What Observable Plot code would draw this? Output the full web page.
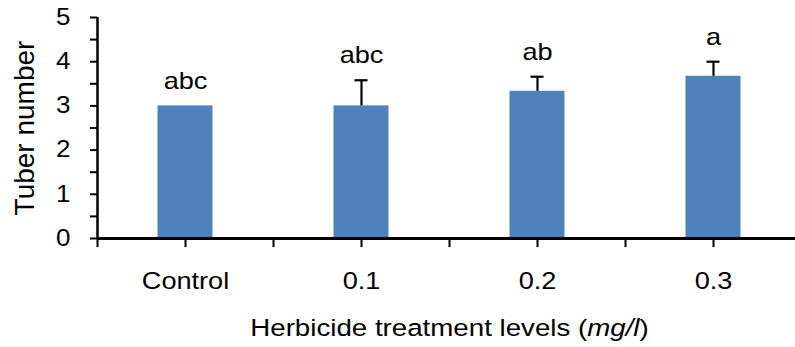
<!DOCTYPE html>
<html>
<head>
<meta charset="utf-8">
<script src="https://cdn.jsdelivr.net/npm/d3@7"></script>
<script src="https://cdn.jsdelivr.net/npm/@observablehq/plot@0.6"></script>
<style>
  html, body { margin: 0; padding: 0; background: #fff; }
  svg { font-family: "Liberation Sans", Arial, sans-serif; }
</style>
</head>
<body>
<div id="chart"></div>
<script>
const categories = ["Control", "0.1", "0.2", "0.3"];
const means = [3.0, 3.0, 3.33, 3.67];
const errors = [0, 0.58, 0.33, 0.33];
const letters = ["abc", "abc", "ab", "a"];
const yTicks = [0, 0.5, 1, 1.5, 2, 2.5, 3, 3.5, 4, 4.5, 5];
const xTicks = [0, 0.5, 1, 1.5, 2, 2.5, 3, 3.5, 4];

const data = categories.map((c, i) => ({cat: c, i, value: means[i], err: errors[i], letter: letters[i]}));

const fontFamily = '"Liberation Sans", Arial, sans-serif';
const stretch = 1.13; // the reference's lettering is slightly wide

const chart = Plot.plot({
  width: 795,
  height: 347,
  marginLeft: 97,
  marginRight: 0,
  marginTop: 17,
  marginBottom: 109,
  style: {fontFamily, color: "#000", background: "#fff", overflow: "visible"},
  x: {domain: [0, categories.length], range: [97, 801]},
  y: {domain: [0, 5], range: [238, 17]},
  marks: [
    Plot.rectY(data, {x1: d => d.i, x2: d => d.i + 1, y: "value", insetLeft: 60.5, insetRight: 60.5, fill: "#4F81BD"}),
    Plot.ruleX(data.filter(d => d.err > 0), {x: d => d.i + 0.5, y1: "value", y2: d => d.value + d.err, stroke: "#000", strokeWidth: 2.2}),
    Plot.ruleY(data.filter(d => d.err > 0), {y: d => d.value + d.err, x1: d => d.i + 0.5, x2: d => d.i + 0.5, insetLeft: -6.5, insetRight: -6.5, stroke: "#000", strokeWidth: 2.2}),
    Plot.text(data, {x: d => d.i + 0.5, y: d => d.value + d.err, text: "letter", lineAnchor: "bottom", dy: -17, fontSize: 24, fill: "#000"}),
    Plot.axisY({ticks: yTicks, tickSize: 7, tickPadding: 20, tickFormat: d => Number.isInteger(d) ? String(d) : "", fontSize: 23, stroke: "#000", strokeWidth: 2, label: null}),
    Plot.axisX({ticks: xTicks, tickSize: 9, tickPadding: 24, tickFormat: d => (d % 1 === 0.5) ? categories[Math.floor(d)] : "", fontSize: 24, stroke: "#000", strokeWidth: 2, label: null}),
    Plot.ruleX([0], {stroke: "#000", strokeWidth: 2.5}),
    Plot.ruleY([0], {stroke: "#000", strokeWidth: 3}),
    Plot.text(["Tuber number"], {frameAnchor: "left", textAnchor: "middle", rotate: -90, dx: -64, lineAnchor: "bottom", fontSize: 28, fill: "#000", className: "ytitle"}),
    Plot.text(["Herbicide treatment levels (mg/l)"], {frameAnchor: "bottom", textAnchor: "middle", dx: 3, dy: 97, lineAnchor: "bottom", fontSize: 24.5, fill: "#000", className: "xtitle"})
  ]
});

// italicise the unit inside the x-axis title
d3.select(chart).selectAll(".xtitle text").each(function() {
  const t = d3.select(this);
  t.text(null);
  t.append("tspan").text("Herbicide treatment levels (");
  t.append("tspan").attr("font-style", "italic").text("mg/l");
  t.append("tspan").text(")");
});

document.getElementById("chart").appendChild(chart);

// widen the horizontal lettering a little, as in the reference
d3.select(chart).selectAll("text").each(function() {
  if (this.closest(".ytitle")) return;
  const len = this.getComputedTextLength();
  if (len > 0) {
    this.setAttribute("textLength", (len * stretch).toFixed(2));
    this.setAttribute("lengthAdjust", "spacingAndGlyphs");
  }
});
</script>
</body>
</html>
